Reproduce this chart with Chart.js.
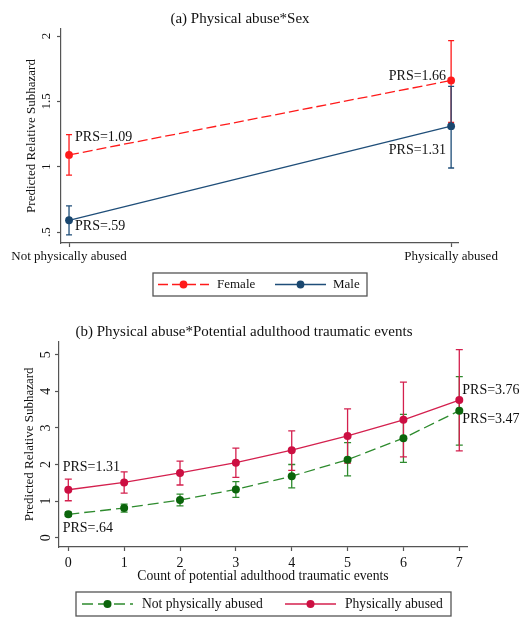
<!DOCTYPE html>
<html>
<head>
<meta charset="utf-8">
<script src="https://cdn.jsdelivr.net/npm/chart.js@4/dist/chart.umd.min.js"></script>
<style>
  body { margin: 0; background: #fff; }
  canvas { display: block; }
</style>
</head>
<body>
<canvas id="chartA" width="522" height="300"></canvas>
<canvas id="chartB" width="522" height="319"></canvas>
<script>
// (a) Physical abuse*Sex
var abuseCats = ["Not physically abused", "Physically abused"];
var femaleVals = [1.09, 1.66];
var femaleLo = [0.935, 1.34];
var femaleHi = [1.245, 1.965];
var femaleNotes = ["PRS=1.09", "PRS=1.66"];
var maleVals = [0.59, 1.31];
var maleLo = [0.478, 0.99];
var maleHi = [0.70, 1.615];
var maleNotes = ["PRS=.59", "PRS=1.31"];
var yTicksA = [0.5, 1, 1.5, 2];
var yLabelsA = [".5", "1", "1.5", "2"];

// (b) Physical abuse*Potential adulthood traumatic events
var eventCounts = [0, 1, 2, 3, 4, 5, 6, 7];
var notAbusedVals = [0.64, 0.81, 1.03, 1.32, 1.68, 2.13, 2.72, 3.47];
var notAbusedLo = [0.58, 0.70, 0.87, 1.10, 1.36, 1.69, 2.06, 2.53];
var notAbusedHi = [0.70, 0.92, 1.19, 1.53, 2.00, 2.60, 3.37, 4.40];
var notAbusedNotes = ["PRS=.64", "", "", "", "", "", "", "PRS=3.47"];
var abusedVals = [1.31, 1.51, 1.77, 2.05, 2.39, 2.78, 3.22, 3.76];
var abusedLo = [1.01, 1.22, 1.44, 1.65, 1.84, 2.04, 2.21, 2.37];
var abusedHi = [1.60, 1.80, 2.09, 2.45, 2.92, 3.52, 4.25, 5.14];
var abusedNotes = ["PRS=1.31", "", "", "", "", "", "", "PRS=3.76"];
var yTicksB = [0, 1, 2, 3, 4, 5];

var serif = "Liberation Serif";
var ink = "#111";
var axisGray = "#555";

function pts(xs, ys) {
  return ys.map(function(v, i) { return { x: xs[i], y: v }; });
}

// error bars, drawn under the lines and markers
var errorBars = {
  id: "errorBars",
  beforeDatasetsDraw: function(chart) {
    var ctx = chart.ctx;
    var ys = chart.scales.y;
    chart.data.datasets.forEach(function(ds, k) {
      var meta = chart.getDatasetMeta(k);
      ctx.save();
      ctx.strokeStyle = ds.errColor;
      ctx.lineWidth = 1.3;
      meta.data.forEach(function(p, i) {
        var top = ys.getPixelForValue(ds.errHi[i]);
        var bot = ys.getPixelForValue(ds.errLo[i]);
        ctx.beginPath();
        ctx.moveTo(p.x, top); ctx.lineTo(p.x, bot);
        ctx.moveTo(p.x - ds.capHalf, top); ctx.lineTo(p.x + ds.capHalf, top);
        ctx.moveTo(p.x - ds.capHalf, bot); ctx.lineTo(p.x + ds.capHalf, bot);
        ctx.stroke();
      });
      ctx.restore();
    });
  }
};

// title, point notes and the boxed legend
var annotate = {
  id: "annotate",
  afterDraw: function(chart, args, opts) {
    var ctx = chart.ctx;
    ctx.save();
    ctx.fillStyle = ink;
    ctx.textBaseline = "middle";
    ctx.textAlign = "center";
    ctx.font = "15px '" + serif + "'";
    ctx.fillText(opts.title, opts.titleX, opts.titleY);

    ctx.font = "14px '" + serif + "'";
    opts.notes.forEach(function(n) {
      var p = chart.getDatasetMeta(n.ds).data[n.i];
      ctx.textAlign = n.align;
      ctx.fillText(chart.data.datasets[n.ds].notes[n.i], p.x + n.dx, p.y + n.dy);
    });

    var lg = opts.legend;
    ctx.strokeStyle = axisGray;
    ctx.lineWidth = 1.3;
    ctx.strokeRect(lg.x0, lg.y0, lg.x1 - lg.x0, lg.y1 - lg.y0);
    var cy = (lg.y0 + lg.y1) / 2;
    lg.items.forEach(function(it, k) {
      var ds = chart.data.datasets[k];
      ctx.strokeStyle = ds.borderColor;
      ctx.lineWidth = ds.borderWidth;
      ctx.setLineDash(ds.borderDash || []);
      ctx.beginPath();
      ctx.moveTo(it.x, cy); ctx.lineTo(it.x + 51, cy);
      ctx.stroke();
      ctx.setLineDash([]);
      ctx.fillStyle = ds.pointBackgroundColor;
      ctx.beginPath();
      ctx.arc(it.x + 25.5, cy, ds.pointRadius, 0, Math.PI * 2);
      ctx.fill();
      ctx.fillStyle = ink;
      ctx.textAlign = "left";
      ctx.font = lg.font + "px '" + serif + "'";
      ctx.fillText(ds.label, it.tx, cy);
    });
    ctx.restore();
  }
};

function yAxis(min, max, ticks, labels, width, size, pad, titlePad) {
  return {
    type: "linear", min: min, max: max,
    afterBuildTicks: function(s) { s.ticks = ticks.map(function(v) { return { value: v }; }); },
    afterFit: function(s) { s.width = width; },
    border: { color: axisGray, width: 1.2 },
    grid: { drawOnChartArea: false, tickLength: 4, color: axisGray, tickWidth: 1.2 },
    ticks: {
      minRotation: 90, maxRotation: 90, crossAlign: "center", padding: pad, color: ink,
      font: { family: serif, size: size },
      callback: function(v) { return labels ? labels[ticks.indexOf(v)] : String(v); }
    },
    title: {
      display: true, text: "Predicted Relative Subhazard", color: ink,
      font: { family: serif, size: 13 }, padding: { top: titlePad, bottom: 0 }
    }
  };
}

new Chart(document.getElementById("chartA").getContext("2d"), {
  type: "line",
  data: {
    datasets: [
      {
        label: "Female", data: pts([0, 1], femaleVals),
        errLo: femaleLo, errHi: femaleHi, notes: femaleNotes,
        borderColor: "#ff1a1a", errColor: "#ff1a1a", borderWidth: 1.3, borderDash: [10, 4],
        pointBackgroundColor: "#ff1a1a", pointBorderWidth: 0, pointRadius: 3.9, capHalf: 3
      },
      {
        label: "Male", data: pts([0, 1], maleVals),
        errLo: maleLo, errHi: maleHi, notes: maleNotes,
        borderColor: "#1f4e79", errColor: "#1f4e79", borderWidth: 1.3,
        pointBackgroundColor: "#1a476f", pointBorderWidth: 0, pointRadius: 3.9, capHalf: 3
      }
    ]
  },
  options: {
    responsive: false, animation: false,
    layout: { padding: { top: 29, left: 0, right: 64, bottom: 37 } },
    scales: {
      x: {
        type: "linear", min: -0.021, max: 1.018,
        afterBuildTicks: function(s) { s.ticks = [0, 1].map(function(v) { return { value: v }; }); },
        afterFit: function(s) { s.height = 20; },
        border: { color: axisGray, width: 1.2 },
        grid: { drawOnChartArea: false, tickLength: 4, color: axisGray, tickWidth: 1.2 },
        ticks: {
          minRotation: 0, maxRotation: 0, autoSkip: false, padding: 2, color: ink,
          font: { family: serif, size: 13 },
          callback: function(v) { return abuseCats[v]; }
        }
      },
      y: yAxis(0.416, 2.054, yTicksA, yLabelsA, 61, 13, 2, 24)
    },
    plugins: {
      legend: { display: false },
      tooltip: { enabled: false },
      annotate: {
        title: "(a) Physical abuse*Sex", titleX: 240, titleY: 19,
        notes: [
          { ds: 0, i: 0, dx: 6, dy: -18, align: "left" },
          { ds: 0, i: 1, dx: -5, dy: -4, align: "right" },
          { ds: 1, i: 0, dx: 6, dy: 6, align: "left" },
          { ds: 1, i: 1, dx: -5, dy: 24.5, align: "right" }
        ],
        legend: {
          x0: 153, y0: 273, x1: 367, y1: 296, font: 13,
          items: [{ x: 158, tx: 217 }, { x: 275, tx: 333 }]
        }
      }
    }
  },
  plugins: [errorBars, annotate]
});

new Chart(document.getElementById("chartB").getContext("2d"), {
  type: "line",
  data: {
    datasets: [
      {
        label: "Not physically abused", data: pts(eventCounts, notAbusedVals),
        errLo: notAbusedLo, errHi: notAbusedHi, notes: notAbusedNotes,
        borderColor: "#2e8b2e", errColor: "#2e8b2e", borderWidth: 1.3, borderDash: [11, 5],
        pointBackgroundColor: "#0b650b", pointBorderWidth: 0, pointRadius: 4, capHalf: 3.5
      },
      {
        label: "Physically abused", data: pts(eventCounts, abusedVals),
        errLo: abusedLo, errHi: abusedHi, notes: abusedNotes,
        borderColor: "#d4204e", errColor: "#d4204e", borderWidth: 1.3,
        pointBackgroundColor: "#cc0f42", pointBorderWidth: 0, pointRadius: 4, capHalf: 3.5
      }
    ]
  },
  options: {
    responsive: false, animation: false,
    layout: { padding: { top: 41.7, left: 0, right: 55, bottom: 32 } },
    scales: {
      x: {
        type: "linear", min: -0.1665, max: 7.138,
        afterBuildTicks: function(s) { s.ticks = eventCounts.map(function(v) { return { value: v }; }); },
        afterFit: function(s) { s.height = 40; },
        border: { color: axisGray, width: 1.2 },
        grid: { drawOnChartArea: false, tickLength: 4, color: axisGray, tickWidth: 1.2 },
        ticks: {
          minRotation: 0, maxRotation: 0, autoSkip: false, padding: 4, color: ink,
          font: { family: serif, size: 14 }
        },
        title: {
          display: true, text: "Count of potential adulthood traumatic events", color: ink,
          font: { family: serif, size: 13.7 }, padding: { top: 0, bottom: 2 }
        }
      },
      y: yAxis(-0.254, 5.355, yTicksB, null, 59, 14, 5, 22)
    },
    plugins: {
      legend: { display: false },
      tooltip: { enabled: false },
      annotate: {
        title: "(b) Physical abuse*Potential adulthood traumatic events", titleX: 244, titleY: 32,
        notes: [
          { ds: 1, i: 0, dx: -5.6, dy: -22.5, align: "left" },
          { ds: 0, i: 0, dx: -5.6, dy: 13.7, align: "left" },
          { ds: 1, i: 7, dx: 3, dy: -9.3, align: "left" },
          { ds: 0, i: 7, dx: 3, dy: 8.3, align: "left" }
        ],
        legend: {
          x0: 76, y0: 292, x1: 451, y1: 316, font: 13.6,
          items: [{ x: 82, tx: 142 }, { x: 285, tx: 345 }]
        }
      }
    }
  },
  plugins: [errorBars, annotate]
});
</script>
</body>
</html>
